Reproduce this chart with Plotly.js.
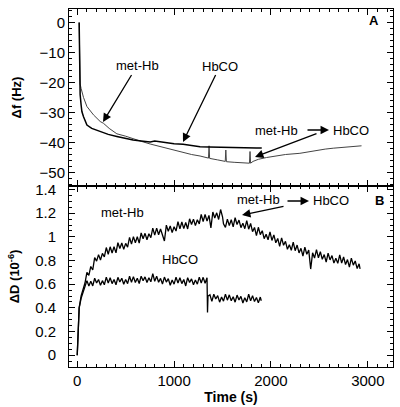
<!DOCTYPE html>
<html><head><meta charset="utf-8">
<script src="https://cdn.plot.ly/plotly-3.0.1.min.js"></script>
<style>html,body{margin:0;padding:0;background:#fff}#chart{width:400px;height:407px}</style>
</head><body><div id="chart"></div>
<script>
// ---- Panel A: frequency shift (Hz) ----
const tA_HbCO = [20,22,25,30,40,48,65,100,150,237,320,409,500,577,660,753,800,850,928,1000,1093,1180,1268,1360,1450,1550,1650,1750,1850,1905];
const fA_HbCO = [0,-12,-20,-24,-27.5,-29.7,-31.4,-34.2,-35.3,-36.4,-37.3,-38.0,-38.7,-39.2,-39.5,-39.8,-39.5,-39.7,-40.2,-40.4,-40.6,-41.0,-41.4,-41.5,-41.6,-41.7,-41.7,-41.8,-41.8,-41.8];
const tA_met = [20,22,25,30,40,48,65,100,168,237,271,330,409,500,577,660,753,840,928,1010,1093,1180,1268,1355,1361,1367,1450,1528,1534,1540,1620,1700,1778,1784,1790,1815,1870,1955,2050,2150,2299,2400,2471,2560,2643,2750,2850,2935];
const fA_met = [0,-12,-18,-20.5,-22,-23,-25,-28,-30.8,-33,-33.6,-35.3,-37.1,-37.9,-38.6,-39.6,-40.5,-41.2,-41.9,-42.7,-43.4,-44.0,-44.5,-45.2,-41.1,-45.3,-45.8,-46.3,-42.5,-46.4,-46.6,-46.8,-46.9,-43.0,-46.9,-46.3,-45.6,-45.0,-44.5,-44.0,-43.6,-43.0,-42.5,-42.2,-41.9,-41.6,-41.3,-41.1];

// ---- Panel B: dissipation shift (1e-6) ----
const tB_met = [0,5,10,20,40,60,80,100,120,140,160,180,200,220,240,260,280,300,320,340,360,380,400,420,440,460,480,500,520,540,560,580,600,620,640,660,680,700,720,740,760,780,800,820,840,860,880,900,920,940,960,980,1000,1020,1040,1060,1080,1100,1120,1140,1160,1180,1200,1220,1240,1260,1280,1300,1320,1340,1360,1380,1400,1420,1440,1460,1480,1500,1510,1530,1550,1570,1590,1610,1630,1650,1670,1690,1710,1730,1750,1770,1790,1810,1830,1850,1870,1890,1910,1930,1950,1970,1990,2010,2030,2050,2070,2090,2110,2130,2150,2170,2190,2210,2230,2250,2270,2290,2310,2330,2350,2370,2390,2410,2430,2450,2470,2490,2510,2530,2550,2570,2590,2610,2630,2650,2670,2690,2710,2730,2750,2770,2790,2810,2830,2850,2870,2890,2910,2920];
const dB_met = [0,0.15,0.28,0.40,0.50,0.56,0.61,0.70,0.675,0.75,0.72,0.825,0.795,0.85,0.805,0.86,0.83,0.91,0.853,0.916,0.864,0.917,0.865,0.951,0.902,0.948,0.894,0.945,0.913,0.996,0.939,1.002,0.95,1.001,0.947,1.033,0.984,1.03,0.976,1.027,0.993,1.074,1.015,1.074,1.018,1.067,1.011,0.965,1.099,1.048,1.092,1.036,1.085,1.049,1.128,1.067,1.126,1.07,1.121,1.067,1.153,1.104,1.15,1.095,1.145,1.11,1.19,1.13,1.189,1.133,1.182,1.076,1.21,1.159,1.203,1.147,1.231,1.17,1.11,1.08,1.15,1.095,1.145,1.085,1.162,1.105,1.142,1.078,1.116,1.069,1.137,1.065,1.113,1.044,1.08,1.01,1.081,1.019,1.052,0.985,1.022,0.975,1.042,0.97,1.017,0.95,0.987,0.92,0.992,0.929,0.962,0.895,0.933,0.887,0.955,0.883,0.931,0.864,0.903,0.838,0.913,0.853,0.888,0.728,0.865,0.821,0.892,0.823,0.874,0.81,0.85,0.787,0.863,0.805,0.842,0.778,0.82,0.776,0.847,0.778,0.83,0.766,0.808,0.745,0.821,0.761,0.796,0.732,0.772,0.73];
const tB_HbCO = [0,5,10,20,40,60,80,100,120,140,160,180,200,220,240,260,280,300,320,340,360,380,400,420,440,460,480,500,520,540,560,580,600,620,640,660,680,700,720,740,760,780,800,820,840,860,880,900,920,940,960,980,1000,1020,1040,1060,1080,1100,1120,1140,1160,1180,1200,1220,1240,1260,1280,1300,1320,1340,1345,1350,1370,1390,1410,1430,1450,1470,1490,1510,1530,1550,1570,1590,1610,1630,1650,1670,1690,1710,1730,1750,1770,1790,1810,1830,1850,1870,1890,1900];
const dB_HbCO = [0,0.15,0.28,0.40,0.48,0.53,0.57,0.63,0.585,0.625,0.585,0.65,0.61,0.64,0.59,0.63,0.595,0.66,0.61,0.655,0.605,0.64,0.595,0.658,0.618,0.65,0.60,0.64,0.605,0.667,0.617,0.664,0.614,0.651,0.606,0.668,0.63,0.662,0.614,0.655,0.62,0.69,0.625,0.668,0.616,0.649,0.602,0.66,0.618,0.647,0.591,0.635,0.60,0.66,0.61,0.655,0.605,0.64,0.585,0.655,0.615,0.645,0.595,0.635,0.60,0.66,0.61,0.658,0.608,0.655,0.36,0.50,0.51,0.455,0.515,0.475,0.503,0.448,0.492,0.457,0.516,0.465,0.51,0.46,0.494,0.448,0.508,0.467,0.497,0.441,0.486,0.45,0.515,0.459,0.503,0.453,0.487,0.442,0.491,0.46];

const FONT = 'Liberation Sans, Arial, Helvetica, sans-serif';
const L = 69, R = 393, T = 9, B = 367, MID = 186;
const W = R - L, H = B - T;
function px(X){ return (X - L) / W; }
function py(Y){ return 1 - (Y - T) / H; }
const splitFrac = (B - MID) / H;
const xRange = [-85, 3260], rangeA = [-54.5, 4.5], rangeB = [-0.1, 1.43];

const hidden = {mode:'lines', line:{width:0}, opacity:0, hoverinfo:'skip', showlegend:false};
const traces = [
  {x: tA_met, y: fA_met, xaxis:'x2', yaxis:'y2', mode:'lines', line:{color:'#444', width:1}, name:'met-Hb (Δf)'},
  {x: tA_HbCO, y: fA_HbCO, xaxis:'x2', yaxis:'y2', mode:'lines', line:{color:'#000', width:1.5}, name:'HbCO (Δf)'},
  {x: tB_met, y: dB_met, xaxis:'x', yaxis:'y', mode:'lines', line:{color:'#000', width:1.3}, name:'met-Hb (ΔD)'},
  {x: tB_HbCO, y: dB_HbCO, xaxis:'x', yaxis:'y', mode:'lines', line:{color:'#000', width:1.3}, name:'HbCO (ΔD)'},
  // invisible copies that carry the minor-tick overlay axes
  Object.assign({x: tB_met, y: dB_met, xaxis:'x3', yaxis:'y3'}, hidden),
  Object.assign({x: tA_met, y: fA_met, xaxis:'x4', yaxis:'y4'}, hidden)
];

const axCommon = {
  showline:true, linecolor:'#000', linewidth:1, mirror:'ticks',
  ticks:'inside', ticklen:6, tickcolor:'#000', tickwidth:1,
  showgrid:false, zeroline:false, tickmode:'linear', fixedrange:true,
  tickfont:{family:FONT, size:15, color:'#000'}
};
const minorAx = Object.assign({}, axCommon, {ticklen:3, showticklabels:false});

const layout = {
  width:400, height:407,
  margin:{l:L, r:400-R, t:T, b:407-B, pad:0},
  paper_bgcolor:'#fff', plot_bgcolor:'rgba(0,0,0,0)',
  showlegend:false,
  font:{family:FONT, color:'#000'},
  xaxis: Object.assign({}, axCommon, {
    domain:[0,1], anchor:'y', range:xRange, tick0:0, dtick:1000,
    title:{text:'<b>Time (s)</b>', font:{family:FONT, size:14, color:'#000'}, standoff:0}
  }),
  xaxis2: Object.assign({}, axCommon, {
    domain:[0,1], anchor:'y2', range:xRange, showticklabels:false, tick0:0, dtick:1000
  }),
  xaxis3: Object.assign({}, minorAx, {overlaying:'x', anchor:'y3', side:'bottom', range:xRange, tick0:0, dtick:100}),
  xaxis4: Object.assign({}, minorAx, {overlaying:'x2', anchor:'y4', side:'bottom', range:xRange, tick0:0, dtick:100}),
  yaxis: Object.assign({}, axCommon, {
    domain:[0, splitFrac], anchor:'x', range:rangeB, tick0:0, dtick:0.2,
    ticklabelstandoff:9,
    title:{text:'<b>ΔD (10<sup>-6</sup>)</b>', font:{family:FONT, size:13, color:'#000'}, standoff:12}
  }),
  yaxis2: Object.assign({}, axCommon, {
    domain:[splitFrac, 1], anchor:'x2', range:rangeA, tick0:0, dtick:10,
    title:{text:'<b>Δf (Hz)</b>', font:{family:FONT, size:13, color:'#000'}, standoff:14}
  }),
  yaxis3: Object.assign({}, minorAx, {overlaying:'y', anchor:'x3', side:'left', range:rangeB, tick0:0, dtick:0.05}),
  yaxis4: Object.assign({}, minorAx, {overlaying:'y2', anchor:'x4', side:'left', range:rangeA, tick0:0, dtick:2}),
  annotations: []
};

function label(text, X, Y, size, bold){
  layout.annotations.push({xref:'paper', yref:'paper', x:px(X), y:py(Y), text: bold ? '<b>'+text+'</b>' : text,
    showarrow:false, xanchor:'center', yanchor:'middle', font:{family:FONT, size:size||13, color:'#000'}});
}
function labelArrow(text, X, Y, tipX, tipY){
  layout.annotations.push({xref:'paper', yref:'paper', x:px(tipX), y:py(tipY), ax:X-tipX, ay:Y-tipY,
    text:text, showarrow:true, arrowhead:2, arrowsize:1.3, arrowwidth:1.3, arrowcolor:'#000', standoff:0,
    font:{family:FONT, size:13, color:'#000'}});
}
function arrow(x0, y0, x1, y1){
  layout.annotations.push({xref:'paper', yref:'paper', x:px(x1), y:py(y1), ax:x0-x1, ay:y0-y1,
    text:'', showarrow:true, arrowhead:2, arrowsize:1.3, arrowwidth:1.3, arrowcolor:'#000'});
}

// panel A labels
label('A', 374, 20, 13, true);
labelArrow('met-Hb', 137, 66, 103, 122);
labelArrow('HbCO', 220, 66, 183, 142);
label('met-Hb', 276, 130);
arrow(306, 130, 329, 130);
label('HbCO', 351, 130);
arrow(318, 133, 255, 157);

// panel B labels
label('B', 379, 200, 13, true);
label('met-Hb', 122, 213);
label('HbCO', 180, 259);
label('met-Hb', 258, 199);
arrow(286, 201, 309, 201);
label('HbCO', 331, 200);
arrow(285, 206, 242, 215);

Plotly.newPlot('chart', traces, layout, {displayModeBar:false, staticPlot:true});
</script>
</body></html>
